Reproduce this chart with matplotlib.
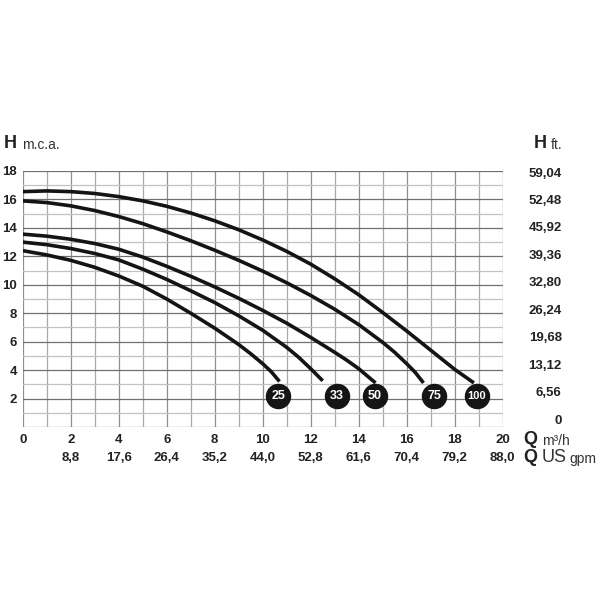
# pump_curves.py

import matplotlib.pyplot as plt

plt.rcParams['font.family'] = ['Liberation Sans', 'DejaVu Sans']

# flow Q (m3/h) and head H (m.c.a.), one pair per pump
q_25 = [0, 1, 2, 3, 4, 5, 6, 7, 8, 9, 9.5, 10, 10.35, 10.7]
h_25 = [12.4, 12.1, 11.72, 11.23, 10.62, 9.9, 9.0, 8.0, 6.95, 5.8, 5.15, 4.45, 3.9, 3.2]

q_33 = [0, 1, 2, 3, 4, 5, 6, 7, 8, 9, 10, 11, 11.5, 12, 12.5]
h_33 = [13.0, 12.82, 12.55, 12.2, 11.75, 11.1, 10.38, 9.58, 8.75, 7.82, 6.8, 5.6, 4.9, 4.1, 3.25]

q_50 = [0, 1, 2, 3, 4, 5, 6, 7, 8, 9, 10, 11, 12, 13, 13.5, 14, 14.7]
h_50 = [13.56, 13.42, 13.2, 12.9, 12.5, 11.95, 11.3, 10.6, 9.85, 9.05, 8.2, 7.3, 6.3, 5.25,
        4.7, 4.1, 3.1]

q_75 = [0, 1, 2, 3, 4, 5, 6, 7, 8, 9, 10, 11, 12, 13, 14, 15, 15.5, 16, 16.35, 16.7]
h_75 = [15.9, 15.78, 15.55, 15.22, 14.8, 14.3, 13.72, 13.1, 12.43, 11.72, 10.96, 10.14, 9.25,
        8.28, 7.2, 5.95, 5.25, 4.45, 3.85, 3.1]

q_100 = [0, 1, 2, 3, 4, 5, 6, 7, 8, 9, 10, 11, 12, 13, 14, 15, 16, 17, 18, 18.8]
h_100 = [16.55, 16.6, 16.55, 16.42, 16.2, 15.9, 15.52, 15.05, 14.5, 13.87, 13.15, 12.35, 11.45,
         10.42, 9.3, 8.05, 6.75, 5.4, 4.05, 3.1]

curves = [(q_25, h_25), (q_33, h_33), (q_50, h_50), (q_75, h_75), (q_100, h_100)]

# pump badges
badge_text = ["25", "33", "50", "75", "100"]
badge_q = [10.65, 13.1, 14.68, 17.14, 18.92]
badge_h = [2.15, 2.15, 2.15, 2.15, 2.15]

# axis ticks
q_ticks = [0, 2, 4, 6, 8, 10, 12, 14, 16, 18, 20]
gpm_labels = ["", "8,8", "17,6", "26,4", "35,2", "44,0", "52,8", "61,6", "70,4", "79,2", "88,0"]
h_ticks = [2, 4, 6, 8, 10, 12, 14, 16, 18]
ft_ticks = [0, 6.56, 13.12, 19.68, 26.24, 32.80, 39.36, 45.92, 52.48, 59.04]
ft_labels = ["0", "6,56", "13,12", "19,68", "26,24", "32,80", "39,36", "45,92", "52,48", "59,04"]

W = 603
fig = plt.figure(figsize=(6.03, 6.03), dpi=100)
ax = fig.add_axes([22.7 / W, 1 - 427 / W, 480 / W, 256 / W])

ax.set_xlim(0, 20)
ax.set_ylim(0, 18)

# grid
for q in range(0, 21):
    ax.axvline(q, color='#8e8e8e' if q % 2 == 0 else '#a9a9a9', lw=0.9, zorder=1)
for h in range(0, 19):
    ax.axhline(h, color='#707070' if h % 2 == 0 else '#c2c2c2', lw=0.9, zorder=1)
for s in ax.spines.values():
    s.set_visible(False)

for q, h in curves:
    ax.plot(q, h, color='#141414', lw=2.6, solid_capstyle='butt', solid_joinstyle='round', zorder=3)

ax.scatter(badge_q, badge_h, s=300, color='#151515', zorder=4, clip_on=False)
for t, q, h in zip(badge_text, badge_q, badge_h):
    ax.text(q, h, t, color='white', fontsize=9 if len(t) < 3 else 8, fontweight='bold',
            ha='center', va='center', zorder=5)

tick_font = dict(fontsize=9.5, fontweight='bold', color='#222222')

ax.set_xticks(q_ticks)
ax.set_xticklabels([str(q) for q in q_ticks], **tick_font)
ax.tick_params(axis='x', length=0, pad=5)
ax.set_yticks(h_ticks)
ax.set_yticklabels([str(h) for h in h_ticks], **tick_font)
ax.tick_params(axis='y', length=0, pad=4)

sec = ax.secondary_xaxis(0)
sec.set_xticks(q_ticks)
sec.set_xticklabels(gpm_labels, **tick_font)
sec.tick_params(length=0, pad=18)
sec.spines['bottom'].set_visible(False)

ax2 = ax.twinx()
ax2.set_ylim(-1.912, 59.28)
ax2.set_yticks(ft_ticks)
ax2.set_yticklabels(ft_labels, **tick_font)
for lbl in ax2.get_yticklabels():
    lbl.set_horizontalalignment('right')
ax2.tick_params(length=0, pad=42.5)
for s in ax2.spines.values():
    s.set_visible(False)

# unit captions
def px(x, y):
    return x / W, 1 - y / W

fig.text(*px(4, 144), "H", fontsize=13, fontweight='bold', color='#222222', va='center')
fig.text(*px(22, 145), "m.c.a.", fontsize=10, color='#333333', va='center')
fig.text(*px(534, 143), "H", fontsize=13, fontweight='bold', color='#222222', va='center')
fig.text(*px(551, 145), "ft.", fontsize=10, color='#333333', va='center')
fig.text(*px(523, 439), "Q", fontsize=13, fontweight='bold', color='#222222', va='center')
fig.text(*px(542, 441), "m³/h", fontsize=10, color='#333333', va='center')
fig.text(*px(523, 457), "Q", fontsize=13, fontweight='bold', color='#222222', va='center')
fig.text(*px(542, 457), "US", fontsize=13, color='#333333', va='center')
fig.text(*px(569, 459), "gpm", fontsize=10, color='#333333', va='center')

plt.savefig("out.png", dpi=100)
